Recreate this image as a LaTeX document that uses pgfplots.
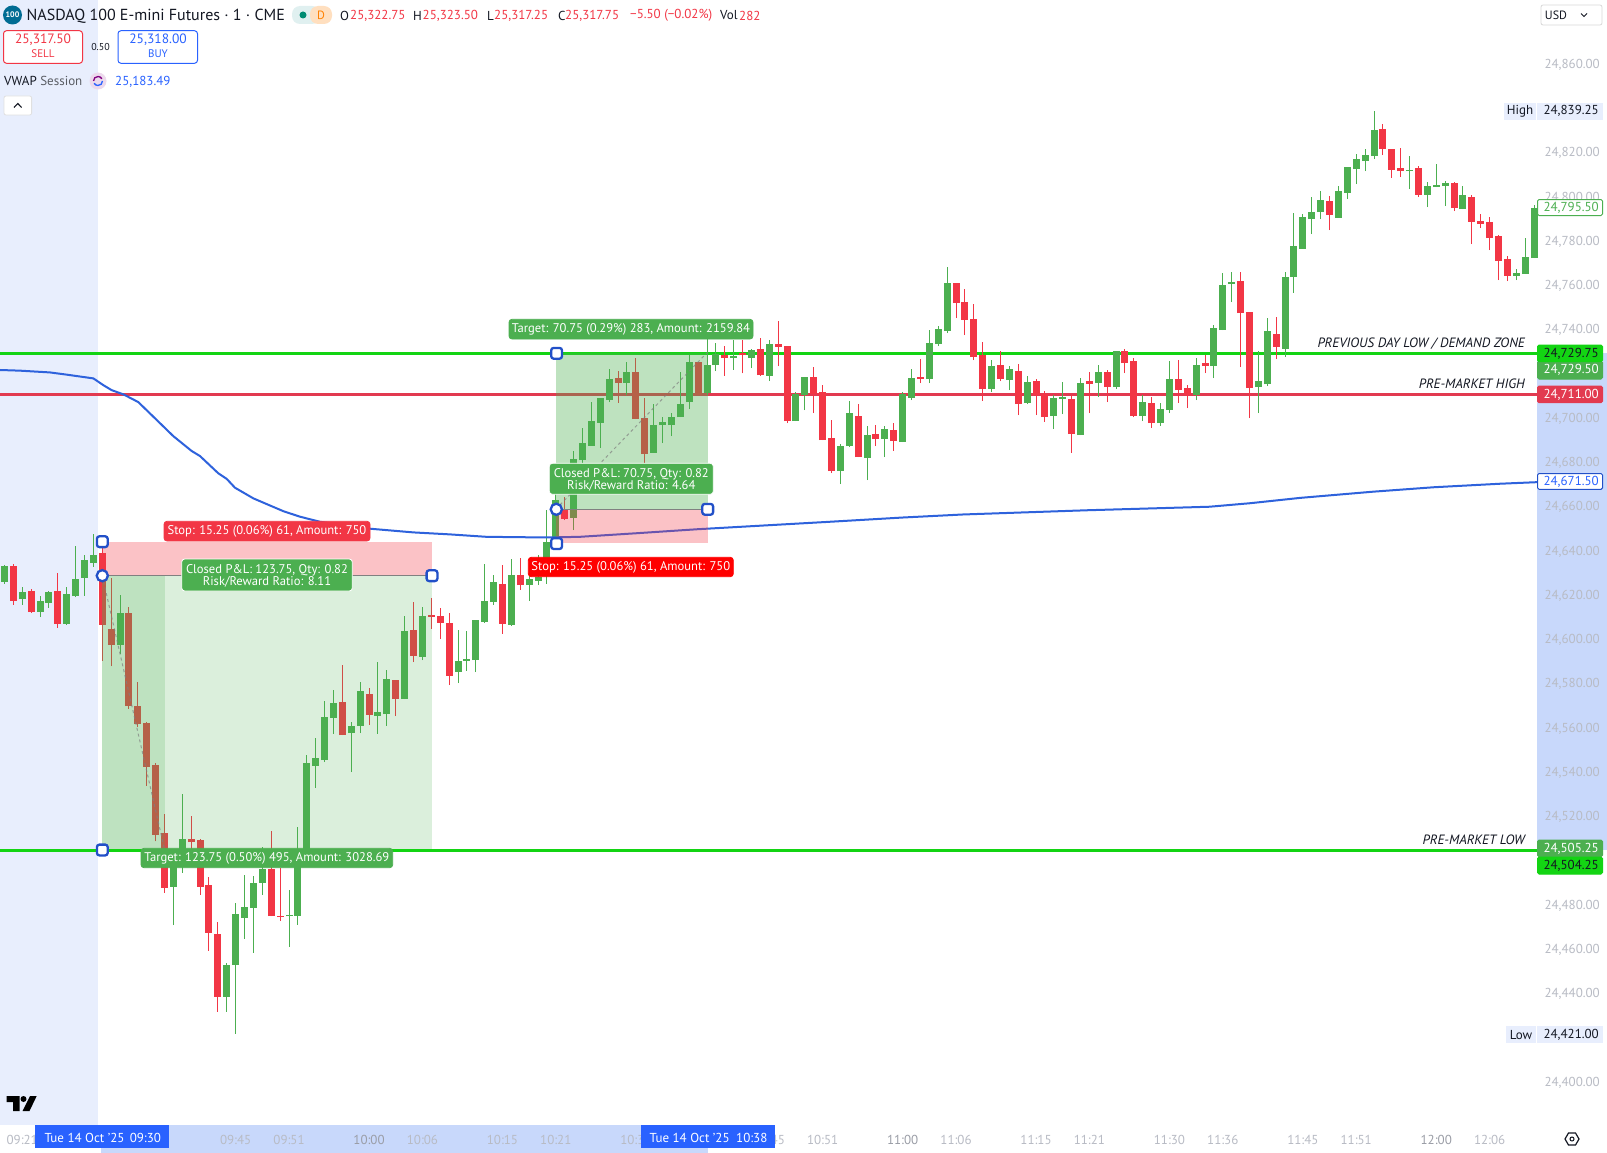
\documentclass[border=0pt]{standalone}
\usepackage{fontspec}
\usepackage{pgfplots}
\usepackage{pgfplotstable}
\pgfplotsset{compat=1.18}
\setmainfont{PT Sans}

\definecolor{tvgreen}{HTML}{4CAF50}
\definecolor{tvred}{HTML}{F23645}
\definecolor{level}{HTML}{13D413}
\definecolor{levelred}{HTML}{E23A50}
\definecolor{vwap}{HTML}{2E62DC}
\definecolor{handle}{HTML}{2250C8}
\definecolor{tick}{HTML}{B8BBC4}
\definecolor{tickdark}{HTML}{9A9DA6}
\definecolor{pane}{HTML}{E8EEFD}
\definecolor{strip}{HTML}{C8D8FB}
\definecolor{box}{HTML}{2962FF}
\definecolor{ink}{HTML}{131722}

\newcommand\fs[1]{\fontsize{#1}{#1}\selectfont}

% t = minutes after 09:30
\pgfplotstableread{
t o h l c
-11 24626.6 24634.1 24625.5 24633.6
-9 24618.7 24624.0 24616.0 24621.8
-7 24612.8 24620.2 24610.5 24617.8
-6 24616.9 24622.3 24614.7 24621.8
-4 24607.4 24624.0 24606.9 24621.0
-3 24620.0 24642.5 24619.5 24627.6
-2 24628.4 24638.7 24620.2 24636.3
-1 24635.0 24648.1 24633.2 24638.6
2 24598.0 24620.6 24594.0 24612.4
8 24488.6 24499.6 24471.3 24498.8
9 24497.9 24530.6 24495.0 24510.1
14 24438.9 24454.0 24432.1 24453.2
15 24453.2 24481.5 24422.1 24476.2
16 24474.5 24493.9 24465.2 24479.7
17 24479.1 24493.4 24458.9 24490.4
18 24490.4 24506.8 24485.0 24496.7
21 24475.4 24487.1 24461.6 24475.8
22 24475.6 24515.8 24471.4 24503.0
23 24500.7 24548.2 24500.7 24544.4
24 24543.4 24555.7 24533.4 24546.8
25 24545.9 24572.6 24545.0 24565.2
26 24565.1 24577.6 24557.7 24571.6
28 24558.1 24563.0 24540.5 24561.3
29 24561.3 24581.2 24558.1 24577.1
31 24565.8 24590.1 24557.7 24567.6
32 24566.7 24586.6 24561.3 24582.6
34 24573.5 24611.0 24573.5 24604.2
36 24592.5 24615.1 24591.1 24611.0
40 24585.7 24604.7 24580.7 24590.7
41 24590.7 24604.2 24586.2 24591.6
42 24591.1 24609.2 24585.7 24609.2
43 24608.3 24634.5 24607.9 24617.8
44 24617.4 24629.6 24616.0 24626.4
46 24607.0 24636.8 24606.5 24629.6
48 24625.0 24629.6 24617.8 24627.8
49 24626.8 24638.6 24625.0 24628.7
50 24634.1 24658.9 24625.5 24644.5
51 24645.4 24667.9 24643.1 24663.4
53 24655.4 24685.7 24649.8 24681.8
54 24681.5 24695.8 24680.0 24689.0
55 24688.0 24707.7 24688.0 24699.1
56 24698.4 24709.5 24687.1 24709.5
57 24708.6 24722.6 24707.7 24718.1
59 24716.3 24725.8 24710.9 24721.3
62 24684.7 24706.8 24684.7 24697.3
63 24697.3 24700.9 24689.2 24698.7
64 24697.3 24702.7 24692.3 24700.9
65 24700.9 24721.3 24700.9 24706.8
66 24707.7 24729.0 24704.5 24725.8
68 24711.8 24736.2 24710.9 24724.4
69 24724.4 24734.4 24721.7 24729.4
71 24727.6 24735.7 24722.2 24728.5
73 24727.6 24731.7 24723.1 24731.2
75 24719.5 24735.7 24717.2 24733.9
78 24699.1 24712.2 24699.1 24711.3
79 24710.7 24719.0 24704.1 24719.0
83 24676.5 24688.7 24670.6 24687.8
84 24687.8 24708.2 24687.4 24702.7
86 24682.4 24696.9 24672.4 24692.8
88 24691.0 24696.9 24682.8 24695.5
90 24689.6 24712.2 24689.6 24711.3
91 24709.5 24722.6 24708.6 24718.5
93 24718.1 24740.2 24716.3 24734.4
94 24733.9 24742.1 24733.0 24740.7
95 24739.8 24768.7 24738.9 24761.5
100 24713.6 24726.7 24712.2 24724.0
102 24717.6 24724.0 24713.1 24722.6
104 24707.3 24719.5 24706.8 24716.7
107 24701.4 24710.9 24695.5 24709.5
108 24709.1 24716.7 24702.3 24709.5
110 24692.8 24718.5 24692.8 24716.3
112 24716.3 24724.4 24710.1 24721.3
114 24714.5 24730.8 24713.6 24730.8
117 24701.4 24710.9 24699.1 24707.7
119 24698.2 24707.3 24696.9 24704.5
120 24704.1 24726.2 24702.7 24718.1
123 24710.9 24727.6 24708.6 24724.4
125 24724.0 24742.5 24718.5 24741.2
126 24740.2 24766.0 24740.2 24760.6
127 24761.0 24766.5 24752.9 24761.9
130 24714.5 24730.8 24702.7 24717.2
131 24715.8 24745.7 24714.9 24739.8
133 24731.7 24766.5 24728.0 24764.2
134 24764.2 24793.1 24757.1 24778.2
135 24776.9 24792.7 24776.9 24791.3
136 24790.4 24800.4 24783.6 24793.6
137 24793.6 24803.1 24790.4 24799.0
139 24790.9 24805.3 24790.9 24803.1
140 24802.2 24813.9 24799.5 24813.9
141 24813.0 24819.8 24806.2 24817.5
142 24816.6 24822.1 24812.1 24819.3
143 24818.9 24839.25 24817.5 24830.6
147 24812.1 24818.9 24804.0 24812.6
149 24801.3 24807.1 24795.8 24805.3
150 24804.9 24815.3 24804.9 24805.8
151 24805.3 24807.6 24796.3 24806.7
153 24794.9 24805.3 24794.9 24801.3
159 24764.7 24767.8 24762.8 24766.0
160 24765.6 24781.8 24765.6 24773.2
161 24772.8 24796.7 24772.8 24795.5
}\upbars

\pgfplotstableread{
t o h l c
-10 24633.6 24634.4 24616.1 24617.8
-8 24622.3 24623.1 24612.4 24612.8
-5 24622.3 24630.3 24605.6 24607.4
0 24639.5 24642.5 24590.8 24607.1
1 24605.1 24628.2 24588.4 24598.0
3 24612.4 24615.0 24569.0 24570.3
4 24570.3 24581.1 24560.9 24562.2
5 24562.7 24563.0 24534.3 24542.8
6 24543.6 24544.6 24509.2 24512.2
7 24513.0 24521.4 24485.9 24488.3
10 24510.4 24520.5 24503.6 24508.8
11 24509.7 24510.1 24485.0 24488.6
12 24489.4 24493.1 24459.7 24467.8
13 24467.3 24472.9 24432.1 24438.9
19 24496.7 24513.8 24475.4 24475.4
20 24475.5 24497.2 24473.3 24474.9
27 24572.2 24588.7 24557.2 24557.2
30 24575.8 24578.3 24561.8 24566.3
33 24582.1 24582.1 24565.8 24573.5
35 24604.7 24617.4 24590.2 24593.0
37 24611.0 24619.2 24605.2 24610.6
38 24611.0 24614.6 24600.6 24607.9
39 24607.9 24612.4 24579.8 24583.9
45 24625.5 24634.1 24602.9 24607.4
47 24629.6 24637.2 24622.8 24625.0
52 24658.9 24664.9 24654.4 24654.8
58 24718.6 24721.7 24707.3 24716.3
60 24721.3 24727.6 24700.0 24700.0
61 24700.5 24709.5 24680.0 24684.2
67 24725.8 24725.8 24710.9 24710.9
70 24729.0 24733.0 24719.5 24727.6
72 24729.7 24735.7 24720.7 24728.8
74 24731.7 24736.6 24719.5 24719.9
76 24733.9 24744.3 24724.0 24732.6
77 24733.0 24733.0 24698.2 24699.1
80 24719.0 24723.5 24702.7 24711.2
81 24712.2 24715.4 24690.5 24690.5
82 24691.4 24699.6 24675.6 24676.5
85 24701.4 24706.8 24682.8 24682.8
87 24693.2 24697.3 24687.8 24691.0
89 24695.0 24698.2 24685.6 24690.1
92 24719.0 24727.1 24716.3 24718.1
96 24761.5 24761.5 24745.7 24752.4
97 24752.9 24758.8 24738.0 24744.8
98 24745.2 24752.0 24726.7 24728.0
99 24728.9 24734.8 24708.2 24713.6
101 24724.4 24730.8 24717.2 24718.1
103 24721.7 24724.9 24701.8 24706.8
105 24717.2 24718.1 24701.8 24710.9
106 24711.3 24712.7 24698.7 24700.9
109 24709.1 24710.9 24684.7 24693.2
111 24717.2 24721.3 24702.7 24715.8
113 24721.3 24722.2 24707.7 24714.5
115 24730.8 24731.7 24720.8 24725.3
116 24726.2 24727.6 24700.9 24701.4
118 24707.3 24710.0 24696.0 24698.2
121 24718.1 24726.7 24707.3 24713.1
122 24714.0 24715.4 24705.0 24710.9
124 24725.3 24728.9 24720.8 24724.0
128 24762.4 24766.5 24723.5 24747.9
129 24748.4 24748.4 24700.5 24714.0
132 24738.4 24746.1 24727.1 24732.6
138 24798.6 24800.8 24785.4 24792.2
144 24831.1 24833.4 24819.3 24822.1
145 24822.1 24822.1 24809.0 24812.6
146 24813.5 24822.5 24809.4 24812.1
148 24813.5 24814.4 24800.4 24801.3
152 24806.7 24807.1 24794.0 24795.4
154 24800.4 24801.3 24779.1 24789.1
155 24789.5 24792.7 24786.3 24788.2
156 24789.1 24791.3 24776.4 24781.8
157 24782.7 24783.2 24762.8 24771.4
158 24772.3 24773.7 24762.4 24764.7
}\downbars

\pgfplotstableread{
t p
-11.5 24722.2
-9.25 24721.9
-5.88 24721.1
-4.0 24720.1
-1.0 24718.4
0.1 24715.4
1.05 24713.1
2.37 24711.2
4.05 24707.7
5.74 24701.1
7.99 24692.3
10.05 24685.6
10.99 24683.3
13.05 24675.5
13.99 24673.0
14.92 24669.0
16.98 24664.2
20.35 24658.4
22.23 24655.9
24.48 24653.6
29.73 24650.6
34.97 24648.8
39.1 24647.9
43.2 24646.8
50 24646.5
53.7 24646.8
60 24648.4
66.8 24650.2
81.8 24653.6
89.9 24655.5
96.8 24656.9
110.7 24658.8
124.5 24660.4
129.1 24662.0
134.7 24664.4
142.9 24667.2
149.7 24669.2
157.2 24670.8
161.33 24671.5
}\vwapline

\pgfplotsset{
  wick/.style={draw=none, mark=none, forget plot,
    error bars/.cd, y dir=plus, y explicit, error mark=none,
    error bar style={line width=1pt, draw=#1, solid}},
  body/.style={draw=none, mark=none, forget plot,
    error bars/.cd, y dir=plus, y explicit, error mark=none,
    error bar style={line width=7pt, draw=#1, solid}},
  zone/.style={draw=none, fill=#1, forget plot},
}

% price tag on the right scale: y1, y2, fill, border, text colour, text
\newcommand\ptag[6]{%
  \filldraw[fill=#3, draw=#4, line width=1pt, rounded corners=1.5pt] (1537.5,#1) rectangle (1602.5,#2);
  \node[anchor=east, text=#5, inner sep=0pt, font=\fs{13}] at (1599,{(#1+#2)/2}) {#6};}
% trade label: x1, y1, x2, y2, fill, border, text
\newcommand\tlabel[7]{%
  \filldraw[fill=#5, draw=#6, line width=.8pt, rounded corners=3pt] (#1,#2) rectangle (#3,#4);
  \node[text=white, inner sep=0pt, align=center, font=\fs{12.6}] at ({(#1+#3)/2},{(#2+#4)/2+.7}) {#7};}
\newcommand\hsq[2]{\filldraw[fill=white, draw=handle, line width=2.3pt, rounded corners=2.5pt] ({#1-5.4},{#2-5.4}) rectangle ({#1+5.4},{#2+5.4});}
\newcommand\hci[2]{\filldraw[fill=white, draw=handle, line width=2.3pt] (#1,#2) circle (5.6);}

\begin{document}
\begin{tikzpicture}
\begin{scope}[x=1pt,y=-1pt]
  \fill[white] (0,0) rectangle (1607,1153);
  \fill[pane] (0,0) rectangle (98,1125);
  \fill[strip] (101,1125) rectangle (708,1153);
  \fill[strip] (1537,353) rectangle (1607,850);
\end{scope}

\begin{axis}[
  at={(0pt,0pt)}, anchor=north west, scale only axis,
  width=1607pt, height=1153pt,
  xmin=-11.5, xmax=169.2, ymin=24368.3, ymax=24889.43,
  axis line style={draw=none}, tick style={draw=none},
  yticklabel pos=right, xticklabel pos=lower,
  ytick={24400,24440,24460,24480,24520,24540,24560,24580,24600,24620,24640,24660,24680,24700,24740,24760,24780,24800,24820,24860},
  scaled y ticks=false,
  yticklabel style={/pgf/number format/.cd, fixed, fixed zerofill, precision=2, 1000 sep={,}, assume math mode=true,
    /tikz/.cd, anchor=east, xshift=-7pt, yshift=.5pt, inner sep=0pt, text=tick, font=\fs{13}},
  xtick={-9,15,21,30,36,45,51,60,75,81,90,96,105,111,120,126,135,141,150,156},
  xticklabels={09:21,09:45,09:51,\textcolor{tickdark}{10:00},10:06,10:15,10:21,10:30,10:45,10:51,\textcolor{tickdark}{11:00},11:06,11:15,11:21,11:30,11:36,11:45,11:51,\textcolor{tickdark}{12:00},12:06},
  xticklabel style={anchor=base, yshift=9pt, inner sep=0pt, text=tick, font=\fs{13}},
]
% key levels sit under the candles
\addplot[level, line width=3pt, forget plot] coordinates {(-11.5,24729.75) (161.33,24729.75)};
\addplot[levelred, line width=3pt, forget plot] coordinates {(-11.5,24711) (161.33,24711)};
\addplot[level, line width=3pt, forget plot] coordinates {(-11.5,24505.25) (161.33,24505.25)};

\addplot[wick=tvgreen] table[x=t, y=l, y error plus expr=\thisrow{h}-\thisrow{l}] {\upbars};
\addplot[wick=tvred] table[x=t, y=l, y error plus expr=\thisrow{h}-\thisrow{l}] {\downbars};
\addplot[body=tvgreen] table[x=t, y=o, y error plus expr={max(\thisrow{c}-\thisrow{o},0.7)}] {\upbars};
\addplot[body=tvred] table[x=t, y=c, y error plus expr={max(\thisrow{o}-\thisrow{c},0.7)}] {\downbars};

\addplot[vwap, line width=2pt, forget plot] table[x=t, y=p] {\vwapline};

% short 09:30 position
\addplot[zone=tvred, fill opacity=.3] coordinates {(0,24644.5) (37.07,24644.5) (37.07,24629.25) (0,24629.25)};
\addplot[zone=tvgreen, fill opacity=.2] coordinates {(0,24629.25) (37.07,24629.25) (37.07,24505.5) (0,24505.5)};
\addplot[zone=tvgreen, fill opacity=.2] coordinates {(0,24629.25) (7,24629.25) (7,24505.5) (0,24505.5)};
\addplot[gray, line width=.8pt, forget plot] coordinates {(0,24629.25) (37.07,24629.25)};
\addplot[gray, opacity=.7, dashed, line width=1pt, forget plot] coordinates {(0,24629.25) (7,24505.5)};
% long 10:21 position
\addplot[zone=tvred, fill opacity=.3] coordinates {(51,24659.25) (68.07,24659.25) (68.07,24644) (51,24644)};
\addplot[zone=tvgreen, fill opacity=.36] coordinates {(51,24730) (68.07,24730) (68.07,24659.25) (51,24659.25)};
\addplot[gray, line width=.8pt, forget plot] coordinates {(51,24659.25) (68.07,24659.25)};
\addplot[gray, opacity=.7, dashed, line width=1pt, forget plot] coordinates {(51,24659.25) (68,24730)};
\end{axis}

\begin{scope}[x=1pt,y=-1pt]
% header
\fill[teal!85!blue] (12.5,15) circle (9.5);
\node[text=white, inner sep=0pt, font=\fs{8}\bfseries] at (12.5,15) {100};
\node[anchor=west, inner sep=0pt, text=ink, font=\fs{16}] at (26.5,16) {NASDAQ 100 E-mini Futures · 1 · CME};
\fill[teal!12, rounded corners=8pt] (292,6) rectangle (320,24);
\fill[orange!25, rounded corners=8pt] (310,6) rectangle (332,24);
\fill[teal!90!green] (303,15) circle (3.5);
\node[text=orange, inner sep=0pt, font=\fs{12}] at (321,15) {D};
\begin{scope}[every node/.style={anchor=west, inner sep=0pt, font=\fs{13}}]
\node[text=ink] at (340,15.5) {O};
\node[text=tvred] at (350,15.5) {25,322.75};
\node[text=ink] at (413,15.5) {H};
\node[text=tvred] at (422.5,15.5) {25,323.50};
\node[text=ink] at (487,15.5) {L};
\node[text=tvred] at (494,15.5) {25,317.25};
\node[text=ink] at (558,15.5) {C};
\node[text=tvred] at (565,15.5) {25,317.75};
\node[text=tvred] at (630,15.5) {−5.50 (−0.02\%)};
\node[text=ink] at (720,15.5) {Vol};
\node[text=tvred] at (739,15.5) {282};
\end{scope}
\filldraw[fill=white, draw=tvred, line width=1pt, rounded corners=3pt] (3.5,30.7) rectangle (82.5,63.3);
\node[text=tvred, inner sep=0pt, font=\fs{13.5}] at (43,40) {25,317.50};
\node[text=tvred, inner sep=0pt, font=\fs{11}] at (43,54) {SELL};
\node[text=ink, inner sep=0pt, font=\fs{10}] at (100.5,46.7) {0.50};
\filldraw[fill=white, draw=box, line width=1pt, rounded corners=3pt] (118,30.7) rectangle (197.5,63.3);
\node[text=box, inner sep=0pt, font=\fs{13.5}] at (158,40) {25,318.00};
\node[text=box, inner sep=0pt, font=\fs{11}] at (158,54) {BUY};
\node[anchor=west, text=ink, inner sep=0pt, font=\fs{13}] at (4,81) {VWAP \textcolor{ink!70}{Session}};
\fill[violet!15] (98,81) circle (8.5);
\draw[box, line width=1.3pt] (102.5,81) arc (0:150:4.5);
\draw[violet, line width=1.3pt] (93.5,81) arc (180:330:4.5);
\node[anchor=west, text=box, inner sep=0pt, font=\fs{13}] at (115,81.5) {25,183.49};
\filldraw[fill=white, draw=black!12, line width=.8pt, rounded corners=2pt] (4,96) rectangle (31.6,115);
\draw[ink, line width=1.1pt] (14,107.5) -- (17.8,103.5) -- (21.6,107.5);
% currency button
\draw[black!15, line width=.8pt, rounded corners=2pt] (1541,5) rectangle (1602,25);
\node[text=ink, inner sep=0pt, font=\fs{12}] at (1556,15) {USD};
\draw[ink, line width=.8pt] (1581,13.5) -- (1584,16.5) -- (1587,13.5);
% high and low
\fill[pane] (1504,102.7) rectangle (1536,120);
\fill[pane] (1537,102.7) rectangle (1602.7,120);
\node[text=ink, inner sep=0pt, font=\fs{13}] at (1520,111) {High};
\node[anchor=east, text=ink, inner sep=0pt, font=\fs{13}] at (1599,111) {24,839.25};
\fill[pane] (1505.7,1026) rectangle (1536,1042.7);
\fill[pane] (1537,1026) rectangle (1602.7,1042.7);
\node[text=ink, inner sep=0pt, font=\fs{13}] at (1521,1035) {Low};
\node[anchor=east, text=ink, inner sep=0pt, font=\fs{13}] at (1599,1035) {24,421.00};
% price tags
\ptag{199.5}{215.5}{white}{tvgreen}{tvgreen}{24,795.50}
\ptag{361}{379}{tvgreen}{tvgreen}{white}{24,729.50}
\ptag{345}{361.7}{level}{level}{ink}{24,729.75}
\ptag{386}{402.7}{levelred}{levelred}{white}{24,711.00}
\ptag{473.5}{489.3}{white}{handle}{box}{24,671.50}
\ptag{840}{856.7}{tvgreen}{tvgreen}{white}{24,505.25}
\ptag{857}{874}{level}{level}{ink}{24,504.25}
% level names
\begin{scope}[every node/.style={anchor=east, inner sep=0pt, text=ink, font=\fs{13.5}\itshape}]
\node at (1525,343.5) {PREVIOUS DAY LOW / DEMAND ZONE};
\node at (1525,384) {PRE-MARKET HIGH};
\node at (1525,840) {PRE-MARKET LOW};
\end{scope}
% position labels
\tlabel{164}{521.3}{370}{541}{tvred}{tvred}{Stop: 15.25 (0.06\%) 61, Amount: 750}
\tlabel{181.7}{559}{352.3}{591}{tvgreen}{white}{Closed P\&L: 123.75, Qty: 0.82\\[-.5pt]Risk/Reward Ratio: 8.11}
\tlabel{141}{848.3}{392.7}{867.7}{tvgreen}{tvgreen}{Target: 123.75 (0.50\%) 495, Amount: 3028.69}
\tlabel{509}{319.3}{753}{339}{tvgreen}{tvgreen}{Target: 70.75 (0.29\%) 283, Amount: 2159.84}
\tlabel{549.3}{463.3}{713.3}{494.3}{tvgreen}{white}{Closed P\&L: 70.75, Qty: 0.82\\[-.5pt]Risk/Reward Ratio: 4.64}
\tlabel{528.3}{557.3}{733.3}{576.7}{red}{red}{Stop: 15.25 (0.06\%) 61, Amount: 750}
% handles
\hsq{102.3}{541.7}
\hci{102.3}{575.7}
\hsq{102.3}{850}
\hsq{432}{575.7}
\hsq{556.6}{353.3}
\hci{556.3}{509.3}
\hsq{556.6}{543.6}
\hsq{707.7}{509.3}
% logo
\fill[black] (6.6,1096) -- (19.5,1096) -- (19.5,1111) -- (13,1111) -- (13,1102) -- (6.6,1102) -- cycle;
\fill[black] (23.5,1099) circle (3);
\fill[black] (30,1096) -- (36.7,1096) -- (29.5,1111) -- (22.5,1111) -- cycle;
% crosshair date boxes
\fill[box] (35,1125) rectangle (169,1148);
\node[anchor=west, text=white, inner sep=0pt, font=\fs{13}] at (44.4,1138) {Tue 14 Oct '25};
\node[anchor=west, text=white, inner sep=0pt, font=\fs{13}] at (129.6,1138) {09:30};
\fill[box] (641,1125) rectangle (775,1148);
\node[anchor=west, text=white, inner sep=0pt, font=\fs{13}] at (649.5,1138) {Tue 14 Oct '25};
\node[anchor=west, text=white, inner sep=0pt, font=\fs{13}] at (736,1138) {10:38};
% settings
\draw[ink, line width=1.2pt] (1565,1139) -- (1568.5,1133) -- (1575.5,1133) -- (1579,1139) -- (1575.5,1145) -- (1568.5,1145) -- cycle;
\draw[ink, line width=1pt] (1572,1139) circle (2);
\end{scope}
\pgfresetboundingbox
\path (0pt,0pt) rectangle (1607pt,-1153pt);
\end{tikzpicture}
\end{document}
